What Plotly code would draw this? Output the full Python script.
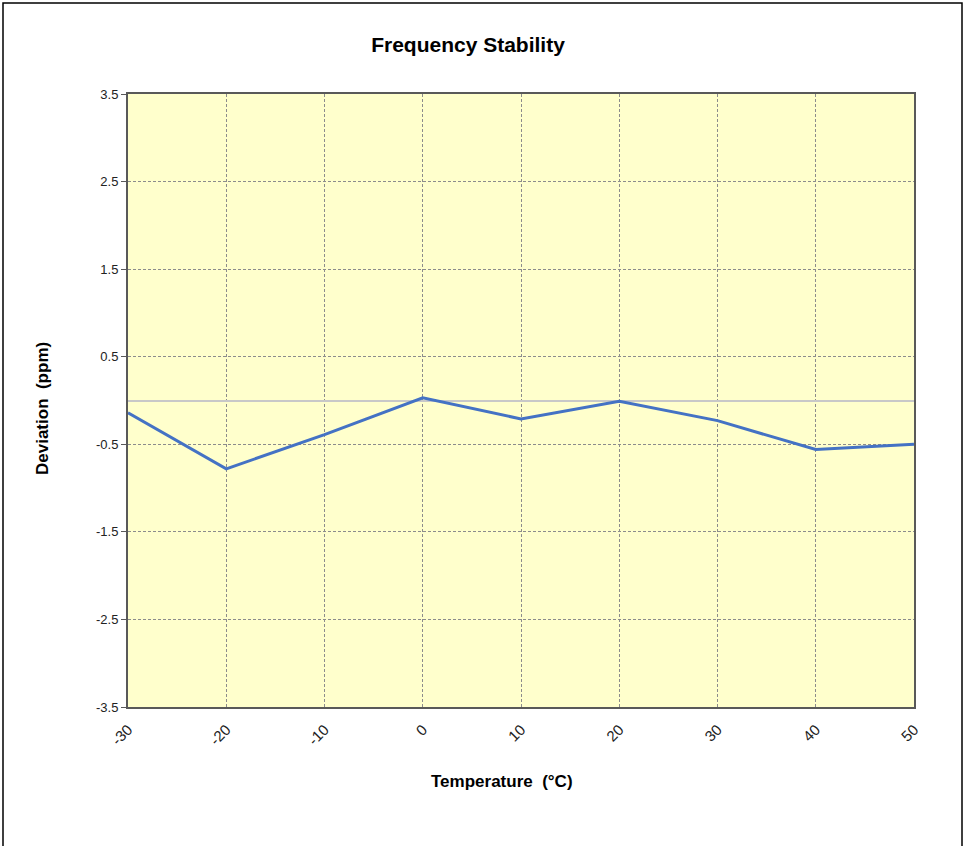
import plotly.graph_objects as go

temperature = [-30, -20, -10, 0, 10, 20, 30, 40, 50]
deviation = [-0.14, -0.78, -0.39, 0.03, -0.21, -0.01, -0.23, -0.56, -0.50]
y_ticks = [-3.5, -2.5, -1.5, -0.5, 0.5, 1.5, 2.5, 3.5]
x_ticks = [-30, -20, -10, 0, 10, 20, 30, 40, 50]

W, H = 965, 846
L, R, T, B = 128, 51, 94, 139
pw = W - L - R
ph = H - T - B

fig = go.Figure()
fig.add_trace(go.Scatter(x=temperature, y=deviation, mode="lines",
                         line=dict(color="#4472C4", width=3), showlegend=False,
                         hoverinfo="x+y"))

font_family = "Liberation Sans, Arial, sans-serif"

fig.update_layout(
    width=W, height=H,
    margin=dict(l=L, r=R, t=T, b=B, autoexpand=False),
    paper_bgcolor="white",
    plot_bgcolor="#FFFFCC",
    font=dict(family=font_family, size=12, color="#222222"),
    title=dict(text="<b>Frequency Stability</b>", x=468 / W, xanchor="center",
               y=1 - 45 / H, yanchor="middle", xref="container", yref="container",
               font=dict(size=21, color="#000000", family=font_family)),
    xaxis=dict(range=[-30, 50], tickvals=x_ticks, ticktext=[str(v) for v in x_ticks],
               tickangle=-45, showgrid=True, gridcolor="#8C8C8C", griddash="3px,2px",
               gridwidth=1, showline=True, linecolor="#595959", linewidth=2, mirror=True,
               zeroline=False, ticks="outside", ticklen=6, tickcolor="rgba(0,0,0,0)",
               tickfont=dict(size=15, color="#222222")),
    yaxis=dict(range=[-3.5, 3.5], tickvals=y_ticks, ticktext=[str(v) for v in y_ticks],
               showgrid=True, gridcolor="#8C8C8C", griddash="3px,2px", gridwidth=1,
               showline=True, linecolor="#595959", linewidth=2, mirror=True,
               zeroline=True, zerolinecolor="#C8C8C8", zerolinewidth=1.5,
               ticks="outside", ticklen=5, tickcolor="#595959",
               tickfont=dict(size=13, color="#222222")),
    annotations=[
        dict(text="<b>Temperature  (°C)</b>", xref="paper", yref="paper",
             x=(502 - L) / pw, y=-(781 - (T + ph)) / ph, xanchor="center", yanchor="middle",
             showarrow=False, font=dict(size=17, color="#000000")),
        dict(text="<b>Deviation  (ppm)</b>", xref="paper", yref="paper",
             x=(42 - L) / pw, y=(T + ph - 409) / ph, xanchor="center", yanchor="middle",
             textangle=-90, showarrow=False, font=dict(size=17, color="#000000")),
    ],
    shapes=[
        dict(type="rect", xref="paper", yref="paper",
             x0=(3 - L) / pw, x1=(962 - L) / pw,
             y0=(T + ph - 852) / ph, y1=(T + ph - 3) / ph,
             line=dict(color="#000000", width=1.5), fillcolor="rgba(0,0,0,0)", layer="below"),
    ],
)

fig.write_html("out.html", config={"displayModeBar": False},
               post_script="document.body.style.margin='0';")
